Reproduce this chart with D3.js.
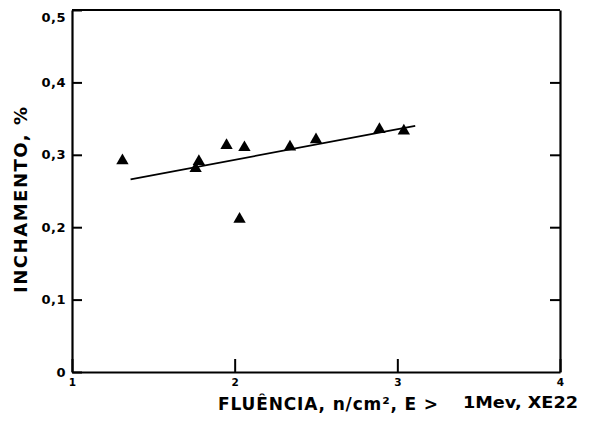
<!DOCTYPE html>
<html>
<head>
<meta charset="utf-8">
<script src="https://cdn.jsdelivr.net/npm/d3@7"></script>
<style>
  html, body { margin: 0; padding: 0; background: #fff; }
  svg { display: block; }
  svg text { font-family: "DejaVu Sans", "Liberation Sans", sans-serif; font-weight: bold; }
</style>
</head>
<body>
<div id="chart"></div>
<script>
const WIDTH = 592;
const HEIGHT = 427;

// fluence (x 1E22 n/cm2) and swelling (%)
const fluence = [1.31, 1.78, 1.76, 1.95, 2.06, 2.03, 2.34, 2.50, 2.89, 3.04];
const swelling = [0.292, 0.291, 0.281, 0.313, 0.310, 0.211, 0.311, 0.321, 0.335, 0.333];

// hand-drawn fit line endpoints
const fitX = [1.36, 3.11];
const fitY = [0.266, 0.340];

const xTicks = [1, 2, 3, 4];
const yTicks = [0, 0.1, 0.2, 0.3, 0.4, 0.5];

const margin = { top: 10, right: 32, bottom: 55, left: 72 };
const innerW = WIDTH - margin.left - margin.right;
const innerH = HEIGHT - margin.top - margin.bottom;

const svg = d3.select("#chart")
  .append("svg")
  .attr("width", WIDTH)
  .attr("height", HEIGHT);

const g = svg.append("g").attr("transform", `translate(${margin.left},${margin.top})`);

const x = d3.scaleLinear().domain([1, 4]).range([0, innerW]);
const y = d3.scaleLinear().domain([0, 0.5]).range([innerH, 0]);

const fmt = (d) => (d === 0 ? "0" : d.toFixed(1).replace(".", ","));

function styleAxis(sel) {
  sel.attr("font-family", null);
  sel.select(".domain").attr("stroke", "#000").attr("stroke-width", 2.2);
  sel.selectAll(".tick line").attr("stroke", "#000").attr("stroke-width", 2);
  sel.selectAll("text").attr("fill", "#000");
}

g.append("g")
  .attr("transform", `translate(0,${innerH})`)
  .call(d3.axisBottom(x).tickValues(xTicks).tickSizeInner(-13).tickSizeOuter(0).tickPadding(7).tickFormat(d3.format("d")))
  .call(styleAxis)
  .call((s) => s.selectAll("text").attr("font-size", 10.5));

g.append("g")
  .call(d3.axisLeft(y).tickValues(yTicks).tickSizeInner(-10).tickSizeOuter(0).tickPadding(6).tickFormat(fmt))
  .call(styleAxis)
  .call((s) => s.selectAll("text").attr("font-size", 13).attr("letter-spacing", 0.5))
  .call((s) => s.selectAll(".tick text").filter((d) => d === 0.5).attr("dy", "0.85em"));

g.append("g")
  .attr("transform", `translate(${innerW},0)`)
  .call(d3.axisRight(y).tickValues(yTicks.slice(1, 5)).tickSizeInner(-10).tickSizeOuter(0).tickFormat(""))
  .call(styleAxis);

g.append("line")
  .attr("x1", 0).attr("x2", innerW)
  .attr("y1", 0).attr("y2", 0)
  .attr("stroke", "#000")
  .attr("stroke-width", 2.2);

// fit line
g.append("line")
  .attr("x1", x(fitX[0])).attr("y1", y(fitY[0]))
  .attr("x2", x(fitX[1])).attr("y2", y(fitY[1]))
  .attr("stroke", "#000")
  .attr("stroke-width", 1.8);

// triangles
const tri = d3.symbol(d3.symbolTriangle, 66);
g.selectAll(".pt")
  .data(fluence.map((f, i) => ({ f, s: swelling[i] })))
  .join("path")
  .attr("class", "pt")
  .attr("d", tri)
  .attr("transform", (d) => `translate(${x(d.f)},${y(d.s)})`)
  .attr("fill", "#000");

// axis titles
svg.append("text")
  .attr("transform", "translate(27,200) rotate(-90)")
  .attr("text-anchor", "middle")
  .attr("font-size", 18)
  .attr("fill", "#000")
  .attr("textLength", 186)
  .attr("lengthAdjust", "spacing")
  .text("INCHAMENTO, %");

svg.append("text")
  .attr("x", 218)
  .attr("y", 410)
  .attr("font-size", 17)
  .attr("fill", "#000")
  .attr("textLength", 220)
  .attr("lengthAdjust", "spacing")
  .text("FLUÊNCIA, n/cm², E >");

svg.append("text")
  .attr("x", 463)
  .attr("y", 408)
  .attr("font-size", 16)
  .attr("fill", "#000")
  .attr("textLength", 115)
  .attr("lengthAdjust", "spacingAndGlyphs")
  .text("1Mev, XE22");
</script>
</body>
</html>
